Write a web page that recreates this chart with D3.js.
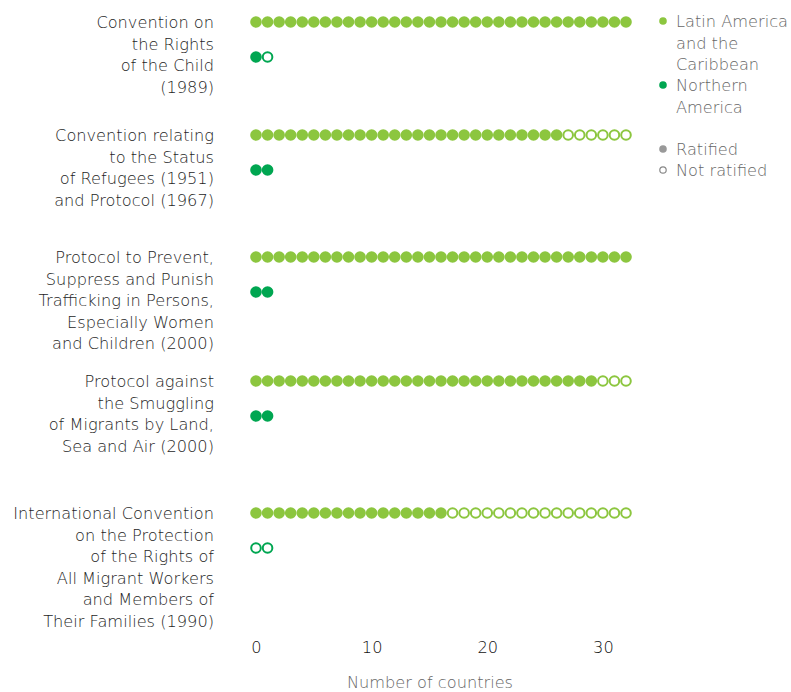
<!DOCTYPE html>
<html><head><meta charset="utf-8">
<script src="https://cdn.jsdelivr.net/npm/d3@7"></script>
<style>body{margin:0;background:#fff}svg{display:block}text{font-family:"DejaVu Sans","Liberation Sans",Arial,sans-serif;font-weight:200}</style>
</head><body>
<svg id="c" width="791" height="692"></svg>
<script>
const treaties = [
  ["Convention on","the Rights","of the Child","(1989)"],
  ["Convention relating","to the Status","of Refugees (1951)","and Protocol (1967)"],
  ["Protocol to Prevent,","Suppress and Punish","Trafficking in Persons,","Especially Women","and Children (2000)"],
  ["Protocol against","the Smuggling","of Migrants by Land,","Sea and Air (2000)"],
  ["International Convention","on the Protection","of the Rights of","All Migrant Workers","and Members of","Their Families (1990)"]
];
const regions = ["Latin America and the Caribbean","Northern America"];
const regionTotals = [33, 2];
const lacRatified = [33, 27, 33, 30, 17];
const naRatified = [1, 2, 2, 2, 0];
const xTicks = [0, 10, 20, 30];
const rowTops = [22, 135, 257, 381, 513];

const FS = "16.2px";
const colors = {"Latin America and the Caribbean":"#8cc63f","Northern America":"#00a651"};
const svg = d3.select("#c");
const x = d3.scaleLinear().domain([0, 32]).range([256, 626]);
const y = d3.scaleOrdinal().domain(d3.range(treaties.length)).range(rowTops);
const rowGap = 35, r = 5.8;

const dots = [];
treaties.forEach((t, ti) => {
  [lacRatified, naRatified].forEach((arr, ri) => {
    for (let i = 0; i < regionTotals[ri]; i++) {
      dots.push({ti, ri, i, ratified: i < arr[ti]});
    }
  });
});
svg.append("g").selectAll("circle").data(dots).join("circle")
  .attr("cx", d => x(d.i))
  .attr("cy", d => y(d.ti) + d.ri * rowGap)
  .attr("r", d => d.ratified ? r : r - 1)
  .attr("fill", d => d.ratified ? colors[regions[d.ri]] : "#fff")
  .attr("stroke", d => d.ratified ? "none" : colors[regions[d.ri]])
  .attr("stroke-width", 2);

const lh = 21.6;
treaties.forEach((lines, ti) => {
  const t = svg.append("text").attr("text-anchor", "end").attr("fill", "#1e1e1e")
    .style("font-size", FS);
  lines.forEach((l, k) => {
    t.append("tspan").attr("x", 214).attr("y", y(ti) + 6 + k * lh).text(l);
  });
});

const ax = svg.append("g").attr("transform", "translate(0,641)")
  .call(d3.axisBottom(x).tickValues(xTicks).tickSize(0).tickPadding(0));
ax.select(".domain").remove();
ax.selectAll("text").style("font-size", FS).attr("fill", "#111").attr("dy", "0.71em")
  .style("font-family", '"DejaVu Sans","Liberation Sans",Arial,sans-serif').style("font-weight", 200);
svg.append("text").attr("x", 430).attr("y", 688).attr("text-anchor", "middle")
  .attr("fill", "#666").style("font-size", FS).text("Number of countries");

const leg = svg.append("g");
const legItems = [
  {lines:["Latin America","and the","Caribbean"], y:21, fill:colors[regions[0]], stroke:"none"},
  {lines:["Northern","America"], y:85, fill:colors[regions[1]], stroke:"none"},
  {lines:["Ratified"], y:149, fill:"#999", stroke:"none"},
  {lines:["Not ratified"], y:170, fill:"#fff", stroke:"#888"}
];
legItems.forEach(it => {
  leg.append("circle").attr("cx", 663).attr("cy", it.y).attr("r", it.stroke === "none" ? 3.8 : 3.2)
    .attr("fill", it.fill).attr("stroke", it.stroke).attr("stroke-width", 1.2);
  const t = leg.append("text").attr("fill", "#666").style("font-size", FS);
  it.lines.forEach((l, k) => t.append("tspan").attr("x", 676).attr("y", it.y + 6 + k * lh).text(l));
});
</script>
</body></html>
